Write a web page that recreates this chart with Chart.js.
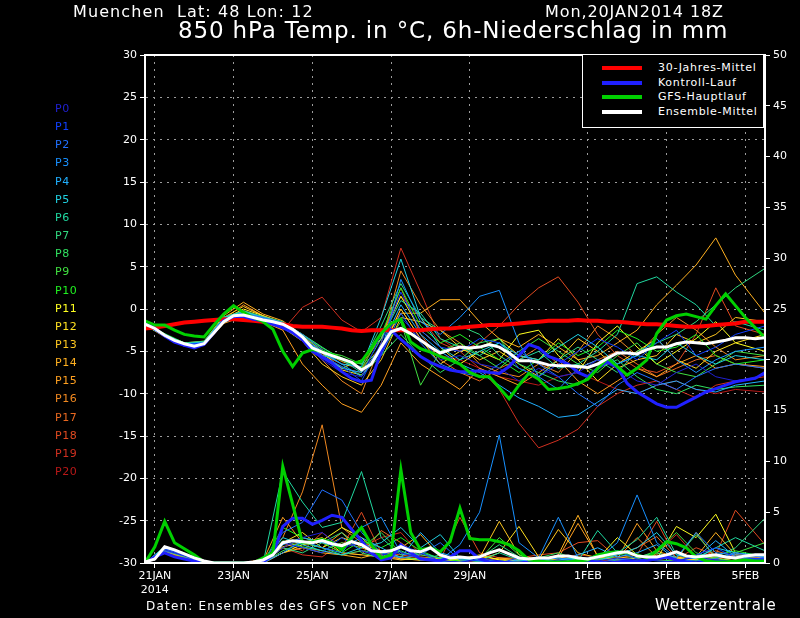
<!DOCTYPE html>
<html>
<head>
<meta charset="utf-8">
<script src="https://cdn.jsdelivr.net/npm/chart.js@4.4.1/dist/chart.umd.min.js"></script>
<style>
body { margin: 0; background: #000; }
#wrap { position: relative; width: 800px; height: 618px; background: #000; overflow: hidden;
        font-family: "DejaVu Sans", sans-serif; color: #fff; }
#c { position: absolute; left: 0; top: 0; }
.txt { position: absolute; white-space: pre; line-height: 1; }
#legend { position: absolute; left: 582px; top: 54px; width: 180px; height: 72px;
          border: 1.5px solid #fff; background: #000; }
#legend .sw { position: absolute; left: 19px; width: 40px; height: 4px; }
#legend .lt { position: absolute; left: 75px; font-size: 11px; letter-spacing: 0.7px; white-space: pre; line-height: 1; }
.plab { position: absolute; left: 55px; font-size: 11px; letter-spacing: 0.6px; line-height: 1; }
</style>
</head>
<body>
<div id="wrap">
  <canvas id="c" width="800" height="618"></canvas>
  <div class="txt" style="left:73px;top:4px;font-size:16px;letter-spacing:1.1px;">Muenchen  Lat: 48 Lon: 12</div>
  <div class="txt" style="left:545px;top:4px;font-size:16px;letter-spacing:0.9px;">Mon,20JAN2014 18Z</div>
  <div class="txt" style="left:178px;top:19px;font-size:23px;letter-spacing:0.85px;">850 hPa Temp. in °C, 6h-Niederschlag in mm</div>
  <div class="txt" style="left:146px;top:600px;font-size:12px;letter-spacing:1.2px;">Daten: Ensembles des GFS von NCEP</div>
  <div class="txt" style="left:655px;top:598px;font-size:15px;letter-spacing:0.7px;">Wetterzentrale</div>
  <div id="legend"></div>
  <div id="plabels"></div>
</div>
<script>
// time axis: hours after 20JAN2014 18Z
const hours6 = [0,6,12,18,24,30,36,42,48,54,60,66,72,78,84,90,96,102,108,114,120,126,132,138,144,150,156,162,168,174,180,186,192,198,204,210,216,222,228,234,240,246,252,258,264,270,276,282,288,294,300,306,312,318,324,330,336,342,348,354,360,366,372,378];
const memberHours = [0,12,24,36,48,60,72,84,96,108,120,132,144,156,168,180,192,204,216,228,240,252,264,276,288,300,312,324,336,348,360,378];
const tickHours = [6,54,102,150,198,270,318,366];
const tickLabels = [["21JAN","2014"],"23JAN","25JAN","27JAN","29JAN","1FEB","3FEB","5FEB"];

// 850 hPa temperature, main lines (6h)
const climMean = [-2.3,-2.2,-2.0,-1.8,-1.6,-1.5,-1.4,-1.3,-1.2,-1.2,
  -1.3,-1.4,-1.5,-1.7,-1.8,-2.0,-2.1,-2.1,-2.1,-2.2,
  -2.3,-2.5,-2.6,-2.5,-2.5,-2.5,-2.5,-2.5,-2.5,-2.4,
  -2.3,-2.3,-2.2,-2.1,-2.0,-1.9,-1.9,-1.8,-1.7,-1.6,
  -1.5,-1.4,-1.4,-1.4,-1.3,-1.4,-1.4,-1.5,-1.5,-1.6,
  -1.7,-1.8,-1.8,-1.9,-2.0,-2.1,-2.1,-2.0,-1.9,-1.8,
  -1.7,-1.5,-1.5,-1.5];
const controlTemp = [-1.6,-2.3,-3.2,-3.9,-4.3,-4.6,-4.2,-2.8,-1.4,-0.9,
  -0.9,-1.2,-1.4,-1.8,-2.2,-2.8,-3.6,-5.0,-5.7,-6.4,
  -7.4,-8.2,-8.6,-8.4,-5.0,-2.5,-3.6,-4.6,-5.6,-6.3,
  -6.8,-7.2,-7.4,-7.4,-7.3,-7.5,-7.6,-6.8,-5.5,-4.2,
  -4.6,-5.6,-6.0,-6.5,-7.5,-8.0,-7.0,-6.2,-6.9,-8.8,
  -9.8,-10.5,-11.2,-11.6,-11.6,-11.0,-10.4,-9.8,-9.4,-9.0,
  -8.6,-8.4,-8.2,-7.5];
const gfsTemp = [-1.4,-1.9,-1.9,-2.5,-3.0,-3.2,-3.3,-1.9,-0.6,0.4,
  -0.4,-1.0,-1.5,-2.4,-5.0,-6.8,-5.2,-4.8,-5.0,-5.4,
  -5.9,-6.4,-6.2,-4.6,-2.9,-1.7,-1.2,-3.9,-4.7,-5.1,
  -5.6,-6.0,-6.5,-7.5,-8.0,-8.0,-9.3,-10.6,-9.0,-7.6,
  -8.3,-9.5,-9.4,-9.2,-8.8,-8.3,-7.0,-5.8,-6.8,-7.8,
  -7.0,-6.0,-2.9,-1.3,-0.8,-0.6,-0.9,-1.2,0.4,1.8,
  0.4,-1.0,-2.2,-3.4];
const meanTemp = [-1.8,-2.3,-3.1,-3.7,-4.1,-4.4,-4.1,-2.8,-1.5,-0.8,
  -0.7,-1.0,-1.3,-1.5,-1.8,-2.4,-3.3,-4.6,-5.1,-5.5,
  -5.9,-6.3,-7.2,-6.5,-4.5,-2.7,-2.3,-2.9,-3.7,-4.5,
  -5.2,-4.8,-4.5,-4.6,-4.5,-4.2,-4.5,-5.2,-6.1,-6.1,
  -6.3,-6.6,-6.7,-6.7,-6.8,-6.9,-6.5,-5.8,-5.2,-5.2,
  -5.3,-4.8,-4.5,-4.5,-4.1,-3.9,-4.0,-4.1,-3.9,-3.7,
  -3.4,-3.4,-3.5,-3.4];

// 6h precipitation, main lines
const controlPrec = [0,0.6,1.0,0.6,0.4,0.2,0,0,0,0,
  0,0,0.1,0.8,3.6,4.4,4.4,3.8,4.2,4.7,
  4.5,3.3,2.2,1.0,0.3,0.5,1.8,1.0,0.4,0.3,
  0.2,0.6,1.2,1.2,0.4,0.1,0.1,0,0,0.1,
  0,0,0.1,0,0,0.2,0.1,0,0.1,0.2,
  0.1,0.3,0.4,0.6,0.3,0.1,0,0.1,0.2,0.1,
  0.1,0.2,0.3,0.3];
const gfsPrec = [0,1.6,4.1,2.0,1.4,0.8,0.1,0,0,0,
  0,0,0.5,1.0,9.5,5.8,2.0,2.1,2.3,2.0,
  1.3,2.5,3.5,1.8,0.5,0.8,9.2,3.0,1.3,1.5,
  1.1,2.1,5.4,2.4,2.3,2.3,2.1,1.8,1.2,0.3,
  0.2,0.1,0.1,0.1,0.2,0.3,0.8,1.0,1.1,1.0,
  0.8,0.5,1.2,2.1,1.9,1.5,0.6,0.2,0.1,0.1,
  0.2,0.3,0.2,0.2];
const meanPrec = [0.1,0.4,1.6,1.3,0.9,0.5,0.2,0,0,0,
  0,0.1,0.3,0.8,2.0,2.2,2.1,2.0,2.2,1.9,
  1.7,2.1,1.8,1.2,1.1,1.2,1.6,1.2,1.1,1.5,
  0.8,0.5,0.6,0.5,0.6,1.0,1.3,0.9,0.5,0.4,
  0.5,0.5,0.7,0.7,0.5,0.4,0.6,0.8,1.0,1.1,
  0.7,0.6,0.6,0.8,1.1,0.7,0.6,0.7,0.8,0.6,
  0.5,0.7,0.8,0.8];

// ensemble members P0..P20, temperature (12h)
const tempP0 = [-1.8,-3.2,-4.4,-4.2,-1.5,-0.8,-1.4,-2.0,-3.8,-6.0,-7.5,-8.0,-3.0,-1.0,-3.5,-6.0,-5.5,-6.5,-7.0,-8.5,-7.0,-8.0,-7.5,-6.0,-7.0,-8.5,-9.0,-7.5,-6.5,-8.0,-8.5,-7.8];
const tempP1 = [-1.7,-3.0,-4.2,-4.0,-1.3,-0.6,-1.2,-1.9,-3.2,-5.5,-6.8,-8.5,-4.0,2.0,-2.5,-4.5,-5.0,-3.5,-4.0,-7.0,-8.0,-6.5,-5.0,-3.5,-4.5,-6.0,-4.0,-2.5,-5.5,-4.5,-3.0,-2.0];
const tempP2 = [-1.8,-3.1,-4.3,-4.1,-1.4,-0.5,-1.0,-1.6,-3.0,-4.8,-6.0,-7.2,-5.5,-0.5,-4.0,-6.5,-7.5,-8.0,-6.5,-5.0,-6.5,-8.0,-10.0,-11.5,-9.0,-7.5,-8.5,-9.5,-8.0,-7.0,-6.5,-7.0];
const tempP3 = [-1.8,-3.0,-4.1,-4.0,-1.2,-0.4,-1.1,-1.9,-3.5,-5.0,-6.5,-8.0,-5.0,3.5,-1.5,-3.0,-1.0,1.5,2.2,-4.0,-8.0,-9.5,-7.0,-6.0,-6.5,-5.5,-3.5,-6.0,-7.5,-6.0,-5.0,-4.5];
const tempP4 = [-1.9,-3.2,-4.3,-4.2,-1.6,-0.7,-1.3,-2.0,-3.6,-5.6,-7.0,-7.5,-4.5,0.5,-3.0,-5.0,-6.5,-7.5,-9.0,-10.5,-11.5,-12.8,-12.5,-11.0,-9.5,-10.0,-9.0,-8.5,-9.5,-9.8,-9.0,-8.5];
const tempP5 = [-1.8,-3.0,-4.1,-3.9,-1.0,-0.3,-1.0,-1.7,-3.4,-5.2,-6.5,-6.8,-1.0,5.9,-1.0,-4.5,-6.0,-5.0,-4.0,-5.5,-6.0,-4.5,-3.0,-4.5,-6.5,-5.5,-6.0,-4.0,-5.5,-6.5,-5.5,-6.0];
const tempP6 = [-1.8,-3.1,-4.2,-4.0,-1.3,-0.5,-1.2,-1.8,-3.3,-5.5,-6.0,-7.5,-3.5,1.0,-0.5,-3.5,-4.5,-5.5,-4.0,-6.0,-5.0,-7.0,-6.5,-5.0,-3.0,3.0,3.8,2.0,0.5,-2.0,-1.5,-2.5];
const tempP7 = [-1.8,-3.0,-4.0,-3.8,-1.0,-0.2,-0.9,-1.5,-3.0,-4.5,-6.0,-6.5,-2.0,3.0,-1.0,-2.5,-2.0,-3.0,-5.5,-7.0,-8.0,-6.0,-4.5,-6.0,-7.5,-5.0,-4.0,-3.0,-1.5,0.5,2.5,4.8];
const tempP8 = [-1.9,-3.2,-4.2,-4.1,-1.5,-0.6,-1.3,-2.0,-3.6,-5.8,-6.8,-7.8,-5.5,-3.0,-5.5,-7.5,-6.0,-4.0,-3.5,-6.5,-7.5,-8.5,-9.0,-7.0,-6.0,-8.0,-9.5,-10.0,-9.0,-9.5,-9.2,-9.0];
const tempP9 = [-1.8,-3.1,-4.1,-4.0,-1.1,-0.4,-1.1,-1.7,-3.1,-5.0,-5.5,-6.5,-5.0,-1.5,-9.0,-5.0,-4.0,-5.5,-7.0,-5.0,-3.5,-5.0,-6.5,-7.5,-5.5,-4.0,-6.5,-7.5,-8.0,-6.5,-5.0,-5.5];
const tempP10 = [-1.7,-2.9,-4.0,-3.9,-1.0,-0.3,-1.0,-1.6,-3.0,-4.6,-5.8,-7.0,-3.0,2.5,-2.0,-4.0,-3.0,-4.5,-6.0,-7.5,-6.0,-4.0,-5.5,-4.5,-2.5,-3.5,-5.0,-4.5,-3.0,-5.5,-6.5,-6.0];
const tempP11 = [-1.8,-3.0,-4.1,-4.0,-1.4,-0.6,-1.4,-2.2,-3.8,-5.2,-7.0,-6.0,-3.5,1.5,-2.5,-4.5,-6.5,-5.0,-6.0,-3.0,-2.5,-5.5,-7.5,-4.0,-2.0,-4.5,-6.5,-5.0,-3.5,-1.5,-4.0,-5.0];
const tempP12 = [-1.9,-3.2,-4.3,-4.1,-1.2,0.0,-0.8,-1.6,-3.5,-5.5,-7.2,-7.8,-5.0,0.0,-3.5,-6.5,-5.0,-4.5,-3.5,-5.5,-6.0,-3.5,-6.0,-8.5,-6.5,-5.0,-3.5,-6.0,-7.0,-5.0,-4.0,-3.0];
const tempP13 = [-1.8,-3.1,-4.2,-4.0,-1.0,0.3,-0.8,-1.8,-3.8,-6.5,-8.0,-9.0,-6.0,-1.0,-1.5,-2.5,-4.5,-6.0,-5.0,-6.5,-8.0,-6.0,-3.5,-5.0,-7.0,-6.0,-5.5,-3.0,-4.0,-3.0,-1.0,-1.5];
const tempP14 = [-1.8,-3.0,-4.0,-3.8,-0.8,0.8,-0.6,-1.4,-3.2,-5.0,-6.2,-7.0,-4.5,-0.5,-0.5,1.1,1.1,-1.5,-3.5,-4.5,-3.0,-4.5,-6.0,-5.5,-4.0,-2.5,0.5,2.8,5.2,8.4,4.0,-0.5];
const tempP15 = [-1.9,-3.3,-4.4,-4.3,-1.7,-0.9,-1.5,-2.5,-6.5,-9.0,-11.2,-12.2,-9.0,-4.0,-6.5,-8.0,-9.5,-7.0,-8.0,-9.0,-7.5,-6.0,-8.5,-10.0,-8.5,-7.0,-8.0,-6.5,-5.5,-7.0,-6.5,-6.8];
const tempP16 = [-1.8,-3.1,-4.2,-4.0,-1.2,0.5,-0.8,-1.6,-3.5,-6.0,-8.5,-10.0,-4.0,4.5,0.5,-2.5,-4.0,-6.5,-7.5,-8.0,-6.5,-7.5,-5.0,-2.0,-3.5,-5.5,-3.0,-1.0,-2.5,-4.5,-6.0,-5.5];
const tempP17 = [-1.8,-3.0,-4.1,-3.9,-1.1,-0.2,-1.0,-1.7,-3.0,-4.8,-6.0,-6.5,-3.5,2.5,-3.0,-6.0,-7.5,-8.5,-7.0,-6.0,-4.5,-6.5,-7.0,-6.0,-5.0,-6.5,-8.0,-7.0,-6.0,-5.5,-6.5,-7.0];
const tempP18 = [-1.8,-3.1,-4.2,-4.1,-1.3,-0.5,-1.2,-1.9,-3.4,-5.4,-6.5,-7.0,-3.0,1.5,-1.0,-4.0,-5.0,-4.0,-2.0,0.5,2.5,3.8,0.8,-3.0,-5.5,-7.0,-7.5,-6.5,-3.0,2.5,-2.0,-3.0];
const tempP19 = [-1.8,-3.1,-4.2,-4.0,-1.2,-0.4,-1.1,-2.5,0.2,1.4,-1.3,-2.7,-1.0,7.2,2.0,-3.5,-5.0,-7.0,-9.5,-13.5,-16.4,-15.5,-14.2,-11.5,-10.0,-9.0,-8.5,-9.5,-10.5,-9.0,-8.5,-8.0];
const tempP20 = [-1.8,-3.0,-4.1,-4.0,-1.3,-0.5,-1.3,-2.0,-3.5,-5.5,-7.0,-7.5,-4.5,0.0,-3.5,-5.5,-6.0,-7.0,-8.0,-8.5,-9.0,-8.0,-7.5,-8.5,-9.5,-10.0,-9.0,-8.5,-9.5,-10.0,-9.5,-9.8];

// ensemble members P0..P20, 6h precipitation (12h)
const precP0 = [0,1.3,0.7,0.1,0,0,0,1.5,2.5,3.0,1.5,2.0,0.8,1.0,0.5,0.3,0,0.5,0.2,0,0,0.3,0,0.2,0.5,0.3,0,0.2,0.6,0.3,0.1,0.2];
const precP1 = [0,1.4,0.8,0.1,0,0,0,2.0,1.5,1.0,2.5,1.2,0.6,1.8,1.0,0.2,0.1,0.3,0,0.5,0.1,0,0.2,0.8,1.2,0.4,0.2,0.1,0.8,1.5,0.5,0.4];
const precP2 = [0,1.2,0.7,0.1,0,0,0.1,3.0,4.0,7.2,6.2,3.0,1.0,0.5,0.8,2.0,0.3,0.2,0.1,0,0.3,0.5,0.2,0,0.4,0.2,0.6,0.3,0.2,0.4,1.0,0.5];
const precP3 = [0,1.5,0.8,0.1,0,0,0,1.0,2.2,1.5,1.0,3.5,4.5,1.0,0.5,0.3,1.8,5.0,12.6,2.0,0.5,4.5,0.5,0.4,2.0,6.7,2.0,0.5,3.0,1.0,0.8,0.6];
const precP4 = [0,1.3,0.7,0,0,0,0,1.8,2.5,2.0,1.5,2.5,1.5,0.5,3.0,1.0,0.5,0.2,0,0.3,0.1,0.2,0.8,1.5,0.6,1.0,1.8,0.3,0.5,2.2,0.6,0.4];
const precP5 = [0,1.6,0.9,0.1,0,0,0,2.5,1.8,1.2,0.8,1.5,2.0,3.5,1.5,2.8,0.5,0.3,0.2,0,0.1,0.3,0.5,0.2,0.8,1.5,3.0,0.8,0.4,1.5,1.0,0.7];
const precP6 = [0,1.4,0.8,0.1,0,0,0,9.0,6.0,3.5,4.0,9.0,2.5,0.8,1.0,0.5,0.4,0.2,1.0,0.3,0.2,0.5,0.2,3.2,1.0,2.3,4.5,0.8,0.5,1.5,2.5,1.2];
const precP7 = [0,1.3,0.7,0.1,0,0,0,1.5,1.0,2.0,3.0,1.0,0.5,1.2,0.4,0.2,0,0.5,1.8,0.6,0.3,0.1,0.4,0.5,0.2,0.6,1.0,0.5,2.8,0.6,1.5,4.4];
const precP8 = [0,1.2,0.6,0,0,0,0,1.2,2.0,1.5,0.8,1.2,1.0,0.6,0.3,0.8,0.4,0.1,0,0.2,0.5,1.0,0.3,0.6,1.2,0.4,0.3,0.2,0.7,0.4,0.2,0.3];
const precP9 = [0,1.5,0.9,0.1,0,0,0.1,2.2,1.6,1.2,2.0,1.5,3.0,1.0,0.8,0.5,0.6,0.3,2.5,0.8,0.1,0.2,0.6,0.3,0.9,0.5,1.2,3.0,1.0,0.5,1.0,2.0];
const precP10 = [0,1.6,1.0,0.1,0,0,0,3.5,2.5,2.0,1.0,2.2,1.5,2.5,1.2,0.4,0.2,0.3,0.2,0.1,0.3,0.5,0.2,0.8,0.4,0.2,0.6,0.3,0.2,0.8,1.2,0.6];
const precP11 = [0,1.3,0.7,0.1,0,0,0,1.0,1.8,2.2,3.5,2.5,0.8,0.6,0.3,0.2,0.4,0.8,0.3,0.2,0.1,0.6,0.2,0.4,2.5,0.8,0.4,3.6,2.5,4.8,1.0,0.5];
const precP12 = [0,1.4,0.8,0,0,0,0,2.0,3.0,1.5,2.5,1.8,1.2,0.4,0.3,0.5,0.2,0.3,1.0,3.6,0.6,0.2,0.1,0.5,0.3,0.2,0.4,0.6,0.3,0.2,0.5,0.3];
const precP13 = [0,1.2,0.6,0.1,0,0,0,1.6,2.0,2.5,1.0,0.8,0.6,0.3,0.5,0.3,0.2,0.5,4.1,0.8,0.3,3.3,1.0,0.5,0.6,0.4,1.0,0.5,0.3,0.6,0.4,0.3];
const precP14 = [0,1.1,0.6,0,0,0,0,1.0,1.5,1.0,0.8,0.5,1.0,1.5,2.8,0.6,0.3,0.2,0.5,0.3,0.2,0.8,4.7,0.6,0.3,0.5,0.8,0.4,0.6,3.0,0.8,0.6];
const precP15 = [0,1.3,0.8,0.1,0,0,0.2,4.5,2.0,1.5,3.0,1.5,0.8,0.4,0.3,0.2,0.3,0.6,0.4,0.2,0.3,0.5,3.9,0.7,0.4,3.9,1.2,0.5,0.3,0.5,0.2,0.4];
const precP16 = [0,1.2,0.7,0,0,0,0.4,2.5,7.0,13.6,3.5,2.0,1.2,0.6,0.4,0.3,0.2,0.4,0.3,0.2,0.6,0.3,0.4,0.2,0.5,2.5,0.6,0.3,3.0,0.4,0.8,0.5];
const precP17 = [0,1.1,0.5,0,0,0,0,1.5,2.5,2.0,1.0,0.8,3.2,2.0,0.6,0.4,0.3,0.2,0.5,0.3,0.2,0.4,0.6,0.3,0.8,1.5,2.6,0.5,0.4,1.2,0.6,0.5];
const precP18 = [0,1.0,0.5,0,0,0,0,2.0,1.2,3.0,1.5,5.0,1.0,0.8,0.5,0.3,4.5,1.0,0.5,0.5,0.8,1.0,2.0,2.2,0.5,0.8,4.1,0.4,1.5,0.8,5.2,1.8];
const precP19 = [0,1.2,0.6,0,0,0,0,1.5,0.8,0.6,2.0,1.5,2.5,3.0,0.8,0.5,0.3,0.2,0.1,0.3,0.2,0.5,0.8,0.6,0.4,0.5,1.0,2.8,0.6,0.4,0.8,0.5];
const precP20 = [0,1.3,0.7,0.1,0,0,0,1.0,1.5,1.2,0.8,1.2,0.6,0.4,0.3,0.6,0.2,0.1,0.3,0.2,0.1,0.2,0.4,0.3,0.2,0.6,0.3,0.2,0.4,0.3,0.2,0.3];

const memberNames = ["P0","P1","P2","P3","P4","P5","P6","P7","P8","P9","P10","P11","P12","P13","P14","P15","P16","P17","P18","P19","P20"];
const memberColors = ["#2020d0","#1040ff","#2070ff","#1890ff","#20b0ff","#20d0e0","#20d8a0","#30d880","#30e060","#40e040","#20f020",
                      "#ffff20","#ffe020","#ffc820","#ffb020","#ffa020","#f08820","#e86820","#e04a20","#d03020","#b81818"];
const memberTemps = [tempP0,tempP1,tempP2,tempP3,tempP4,tempP5,tempP6,tempP7,tempP8,tempP9,tempP10,tempP11,tempP12,tempP13,tempP14,tempP15,tempP16,tempP17,tempP18,tempP19,tempP20];
const memberPrecs = [precP0,precP1,precP2,precP3,precP4,precP5,precP6,precP7,precP8,precP9,precP10,precP11,precP12,precP13,precP14,precP15,precP16,precP17,precP18,precP19,precP20];

const legendItems = [
    { label: "30-Jahres-Mittel", color: "#ff0000" },
    { label: "Kontroll-Lauf", color: "#2020ff" },
    { label: "GFS-Hauptlauf", color: "#00d000" },
    { label: "Ensemble-Mittel", color: "#ffffff" },
];

// member labels on the left
const plabels = document.getElementById('plabels');
memberNames.forEach((name, i) => {
    const d = document.createElement('div');
    d.className = 'plab';
    d.style.top = (103 + i * 18.15) + 'px';
    d.style.color = memberColors[i];
    d.textContent = name;
    plabels.appendChild(d);
});

// legend box
const legend = document.getElementById('legend');
legendItems.forEach((item, i) => {
    const y = 13 + i * 14.5;
    const sw = document.createElement('div');
    sw.className = 'sw';
    sw.style.top = (y - 2) + 'px';
    sw.style.background = item.color;
    legend.appendChild(sw);
    const t = document.createElement('div');
    t.className = 'lt';
    t.style.top = (y - 6) + 'px';
    t.textContent = item.label;
    legend.appendChild(t);
});

function pts(xs, ys) {
    return xs.map((x, i) => ({ x: x, y: ys[i] }));
}

function lineSet(data, color, width, axis, order) {
    return {
        data: data, yAxisID: axis, borderColor: color, borderWidth: width,
        pointRadius: 0, tension: 0, fill: false, order: order
    };
}

const datasets = [];
// members (drawn first, thin)
memberNames.forEach((name, i) => {
    datasets.push(lineSet(pts(memberHours, memberTemps[i]), memberColors[i], 1, 'yT', 20));
    datasets.push(lineSet(pts(memberHours, memberPrecs[i]), memberColors[i], 1, 'yP', 20));
});
datasets.push(lineSet(pts(hours6, climMean), "#ff0000", 4, 'yT', 5));
datasets.push(lineSet(pts(hours6, controlTemp), "#2020ff", 3, 'yT', 4));
datasets.push(lineSet(pts(hours6, controlPrec), "#2020ff", 3, 'yP', 4));
datasets.push(lineSet(pts(hours6, gfsTemp), "#00d000", 3, 'yT', 3));
datasets.push(lineSet(pts(hours6, gfsPrec), "#00d000", 3, 'yP', 3));
datasets.push(lineSet(pts(hours6, meanTemp), "#ffffff", 3, 'yT', 1));
datasets.push(lineSet(pts(hours6, meanPrec), "#ffffff", 3, 'yP', 1));

// black background and white frame round the plot
const framePlugin = {
    id: 'frame',
    beforeDraw(chart) {
        const ctx = chart.ctx;
        ctx.save();
        ctx.fillStyle = '#000';
        ctx.fillRect(0, 0, chart.width, chart.height);
        ctx.restore();
    },
    afterDraw(chart) {
        const a = chart.chartArea, ctx = chart.ctx;
        ctx.save();
        ctx.strokeStyle = '#fff';
        ctx.lineWidth = 2;
        ctx.strokeRect(a.left, a.top, a.right - a.left, a.bottom - a.top);
        ctx.restore();
    }
};

Chart.defaults.font.family = '"DejaVu Sans", sans-serif';
Chart.defaults.font.size = 11;
Chart.defaults.color = '#fff';

const gridDots = { color: '#9c9c9c', lineWidth: 1, tickColor: '#fff', tickLength: 5 };

new Chart(document.getElementById('c'), {
    type: 'line',
    data: { datasets: datasets },
    options: {
        responsive: false,
        animation: false,
        events: [],
        layout: { padding: { top: 55, left: 0, right: 0, bottom: 0 } },
        plugins: { legend: { display: false }, tooltip: { enabled: false } },
        scales: {
            x: {
                type: 'linear', min: 0, max: 378,
                afterBuildTicks: s => { s.ticks = tickHours.map(v => ({ value: v })); },
                afterFit: s => { s.height = 55; },
                ticks: {
                    color: '#fff', autoSkip: false, maxRotation: 0, padding: 2,
                    font: { size: 11 },
                    callback: v => tickLabels[tickHours.indexOf(v)]
                },
                grid: gridDots,
                border: { display: true, color: '#fff', width: 2, dash: [2, 5] }
            },
            yT: {
                position: 'left', min: -30, max: 30,
                afterFit: s => { s.width = 145; },
                ticks: { stepSize: 5, color: '#fff', padding: 3, font: { size: 11 } },
                grid: gridDots,
                border: { display: true, color: '#fff', width: 2, dash: [2, 5] }
            },
            yP: {
                position: 'right', min: 0, max: 50,
                afterFit: s => { s.width = 35; },
                ticks: { stepSize: 5, color: '#fff', padding: 3, font: { size: 11 } },
                grid: { drawOnChartArea: false, tickColor: '#fff', tickLength: 5 },
                border: { display: true, color: '#fff', width: 2 }
            }
        }
    },
    plugins: [framePlugin]
});
</script>
</body>
</html>
